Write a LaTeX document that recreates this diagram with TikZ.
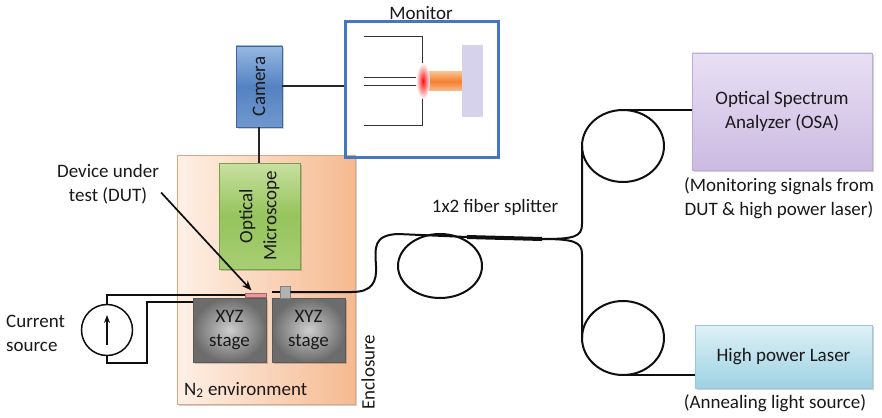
\documentclass[tikz,border=0pt]{standalone}
\usepackage{fontspec}
\setmainfont{Carlito}
\usetikzlibrary{arrows.meta,shadows,calc}

\definecolor{ink}{RGB}{25,25,25}
\definecolor{wire}{RGB}{15,15,15}
\definecolor{monblue}{RGB}{70,118,192}
\definecolor{camtop}{RGB}{150,184,226}
\definecolor{cammid}{RGB}{84,130,194}
\definecolor{cambot}{RGB}{112,152,206}
\definecolor{camedge}{RGB}{60,100,160}
\definecolor{mictop}{RGB}{200,224,160}
\definecolor{micmid}{RGB}{150,196,92}
\definecolor{micbot}{RGB}{168,206,116}
\definecolor{micedge}{RGB}{120,160,70}
\definecolor{encllight}{RGB}{254,240,230}
\definecolor{enclmid}{RGB}{251,222,200}
\definecolor{enclorange}{RGB}{245,186,144}
\definecolor{stagelight}{RGB}{205,205,205}
\definecolor{stagedark}{RGB}{108,108,108}
\definecolor{dutpink}{RGB}{236,150,160}
\definecolor{osatop}{RGB}{232,224,244}
\definecolor{osabot}{RGB}{204,186,226}
\definecolor{osaedge}{RGB}{190,172,214}
\definecolor{lasertop}{RGB}{222,241,247}
\definecolor{laserbot}{RGB}{158,210,226}
\definecolor{laseredge}{RGB}{150,200,216}
\definecolor{lavender}{RGB}{214,210,236}
\definecolor{beam}{RGB}{245,128,48}
\definecolor{beamedge}{RGB}{250,190,140}

\tikzset{
  txt/.style={font=\fontsize{19}{24}\selectfont, text=ink},
  fiber/.style={draw=wire, line width=2pt},
  elec/.style={draw=wire, line width=2pt},
  softshadow/.style={drop shadow={shadow xshift=2pt, shadow yshift=-2pt, fill=black, opacity=0.18}},
  stagebox/.style={draw=black!65, line width=0.6pt, inner sep=0pt,
    minimum width=73pt, minimum height=64pt, shading=radial,
    inner color=stagelight, outer color=stagedark, softshadow, txt, align=center},
  lbl/.style={txt, inner sep=0pt}
}

\begin{document}
\begin{tikzpicture}[x=1pt, y=-1pt]
\useasboundingbox (0,0) rectangle (882,417);

% ---- nitrogen enclosure ----
\node[inner sep=0pt, minimum width=178pt, minimum height=249pt,
      left color=encllight, middle color=enclmid, right color=enclorange,
      draw=enclorange!90!black, line width=0.4pt, softshadow] (encl) at (266,279.5) {};
\node[lbl, rotate=90] (encllbl) at (368,372) {Enclosure};
\node[lbl, anchor=west] (n2) at (184,390) {N\textsubscript{2} environment};

% ---- camera and monitor ----
\node[inner sep=0pt, minimum width=46pt, minimum height=81pt, draw=camedge, line width=0.6pt,
      top color=camtop, bottom color=cambot, middle color=cammid, softshadow, txt]
      (camera) at (259,86.5) {\rotatebox{90}{Camera}};

\node[draw=monblue, line width=3pt, minimum width=153pt, minimum height=135pt, inner sep=0pt]
      (monitor) at (421.5,89.5) {};
\node[lbl] (montitle) at (421,13) {Monitor};

% image on the monitor: fibre tip, emitted beam and target
\draw[black!80, line width=1pt] (364,37) -- (422,37) -- (422,125) -- (364,125);
\draw[black!80, line width=1pt] (364,78) -- (422,78);
\draw[black!80, line width=1pt] (364,86) -- (422,86);
\shade[top color=beamedge, bottom color=beamedge, middle color=beam] (424,72) rectangle (462,91);
\shade[inner color=red!95, outer color=white] (423,81) ellipse (7 and 18);
\fill[lavender] (462,45) rectangle (483,117);

\draw[line width=2pt, black!85] (camera.east) -- (camera.east -| monitor.west);

% ---- optical microscope ----
\node[inner sep=0pt, minimum width=81pt, minimum height=106pt, draw=micedge, line width=0.6pt,
      top color=mictop, bottom color=micbot, middle color=micmid, softshadow, txt]
      (micro) at (259.5,216) {\rotatebox{90}{\begin{tabular}{@{}c@{}}Optical\\Microscope\end{tabular}}};
\draw[line width=2pt, black!85] (camera.south) -- (camera.south |- micro.north);

% ---- stages, device and fibre connector ----
\node[stagebox] (stage1) at (229.5,330) {XYZ\\stage};
\node[stagebox] (stage2) at (308.5,330) {XYZ\\stage};
\node[draw=red!40!black!60, fill=dutpink, line width=0.5pt, inner sep=0pt,
      minimum width=21pt, minimum height=4.5pt] (dut) at (255.5,295) {};
\node[draw=black!50, fill=black!30, line width=0.5pt, inner sep=0pt,
      minimum width=10pt, minimum height=12pt] (conn) at (285,292) {};

% ---- device label and arrow ----
\node[lbl, align=center] (dutlbl) at (108,184.5) {Device under\\test (DUT)};
\draw[line width=1.7pt, wire, -{Stealth[length=10pt,width=8pt]}]
      ($(dutlbl.east)+(2,8)$) -- ($(dut.north)+(-4,-2)$);

% ---- current source and wiring ----
\node[circle, draw=wire, line width=1.5pt, minimum size=51pt, inner sep=0pt] (src) at (107,330) {};
\draw[line width=1.5pt, wire, -{Stealth[length=8pt,width=6pt]}]
      ($(src.center)+(0,15)$) -- ($(src.center)+(0,-15)$);
\node[lbl, anchor=west, align=left] (srclbl) at (6,333) {Current\\source};

\coordinate (wbend) at (147,363);
\coordinate (wtop) at (147,302);
\draw[elec] (src.north) |- (dut.west);
\draw[elec] (src.south) |- (wbend) -- (wtop) -- (wtop -| stage1.west);

% ---- fibre from the sample to the splitter ----
\coordinate (fa) at (352,292);
\coordinate (fb) at (376,266);
\coordinate (fc) at (398,234);
\coordinate (sp1) at (467,237);
\coordinate (sp2) at (542,239);
\draw[fiber] ($(conn.west)+(-8,0)$) -- (conn.west);
\draw[fiber] (conn.east) -- (fa) .. controls (372,292) and (377,282) .. (fb)
      .. controls (375,248) and (373,235) .. (fc) -- (sp1);
\draw[fiber] (440,266) ellipse (42 and 32);
\draw[wire, line width=4pt] (sp1) -- (sp2);
\node[lbl] (splbl) at (495,207) {1x2 fiber splitter};

% ---- branch to the spectrum analyser ----
\node[inner sep=0pt, minimum width=180pt, minimum height=117pt, draw=osaedge, line width=0.5pt,
      top color=osatop, bottom color=osabot, softshadow, txt, align=center]
      (osa) at (782,111.5) {Optical Spectrum\\Analyzer (OSA)};
\node[lbl, align=center] (osacap) at (779,198.5) {(Monitoring signals from\\DUT \& high power laser)};
\coordinate (ub) at (582,146);
\draw[fiber] (sp2) .. controls (574,239) and (582,237) .. (582,224) -- (ub);
\draw[fiber] (623,146) ellipse (41 and 36);
\draw[fiber] (622,110) -- (osa.west |- 622,110);

% ---- branch to the annealing laser ----
\node[inner sep=0pt, minimum width=177pt, minimum height=63pt, draw=laseredge, line width=0.5pt,
      top color=lasertop, bottom color=laserbot, softshadow, txt, align=center]
      (laser) at (783.5,356.5) {High power Laser};
\node[lbl] (lasercap) at (775,403) {(Annealing light source)};
\coordinate (lb) at (582,338);
\draw[fiber] (sp2) .. controls (574,239) and (582,242) .. (582,254) -- (lb);
\draw[fiber] (623,338) ellipse (41 and 37);
\draw[fiber] (622,375) -- (laser.west |- 622,375);

\end{tikzpicture}
\end{document}
